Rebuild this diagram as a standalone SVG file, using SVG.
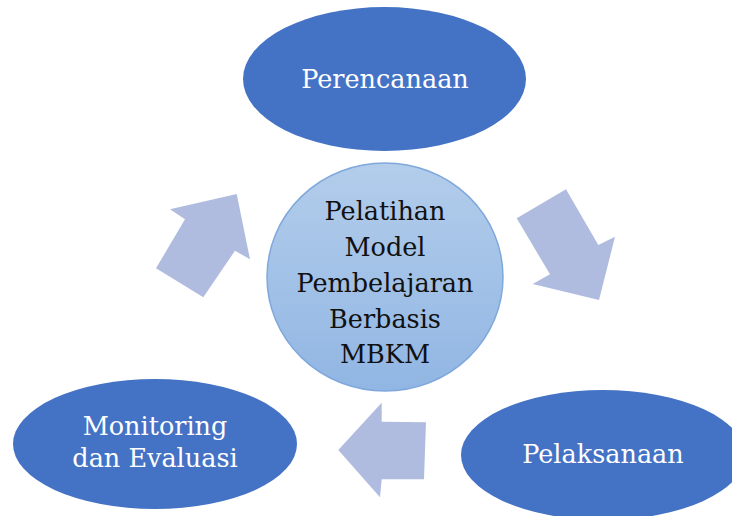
<svg xmlns="http://www.w3.org/2000/svg" width="732" height="516" viewBox="0 0 732 516">
<defs>
<linearGradient id="cg" x1="0" y1="0" x2="0" y2="1">
<stop offset="0" stop-color="#B3CDEB"/>
<stop offset="1" stop-color="#91B6E3"/>
</linearGradient>
<style>
.el{fill:#4472C4;}
.ar{fill:#B0BCDF;}
.wt{font-family:"DejaVu Serif","Liberation Serif",serif;font-size:25.5px;fill:#FFFFFF;text-anchor:middle;}
.bt{font-family:"DejaVu Serif","Liberation Serif",serif;font-size:25.5px;fill:#111111;text-anchor:middle;}
</style>
</defs>
<rect width="732" height="516" fill="#FFFFFF"/>
<g id="connectors">
<polygon class="ar" points="236.7,194 170,209.3 185,219.3 156,268.3 203.3,297.3 235,250.7 250,259.3"/>
<polygon class="ar" points="516.7,218.3 566,189.3 598.3,245 615,236.7 599,300 532.7,284 550,274.3"/>
<polygon class="ar" points="338.3,450 381.7,402.7 381.7,421.7 426,422.3 424,479.3 381.7,479.3 380,497.3"/>
</g>
<g id="perencanaan">
<ellipse class="el" cx="384.5" cy="79" rx="141.5" ry="72"/>
<text class="wt" x="385" y="88">Perencanaan</text>
</g>
<g id="center">
<ellipse cx="385" cy="277" rx="118" ry="114" fill="url(#cg)" stroke="#7FA8DC" stroke-width="1.5"/>
<text class="bt" x="385" y="220">Pelatihan</text>
<text class="bt" x="385" y="256">Model</text>
<text class="bt" x="385" y="292">Pembelajaran</text>
<text class="bt" x="385" y="328">Berbasis</text>
<text class="bt" x="385" y="363">MBKM</text>
</g>
<g id="pelaksanaan">
<ellipse class="el" cx="603" cy="455" rx="142" ry="65"/>
<text class="wt" x="603" y="463">Pelaksanaan</text>
</g>
<g id="monitoring">
<ellipse class="el" cx="155" cy="444" rx="142" ry="65"/>
<text class="wt" x="155" y="435">Monitoring</text>
<text class="wt" x="155" y="467">dan Evaluasi</text>
</g>
</svg>
